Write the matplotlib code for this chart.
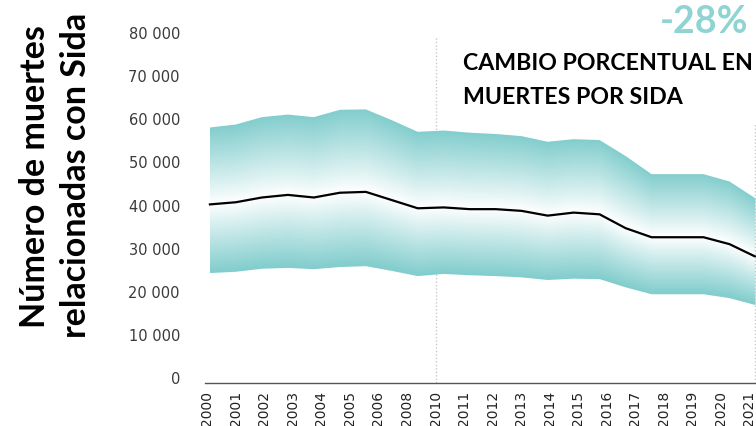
import numpy as np
import matplotlib
matplotlib.use('Agg')
import matplotlib.pyplot as plt
from matplotlib.colors import to_rgb

# AIDS-related deaths, estimate with lower / upper bounds
years = np.arange(2000, 2022)
upper = [58100, 58800, 60500, 61100, 60500, 62200, 62300, 59800, 57100, 57400, 56900,
         56600, 56100, 54800, 55400, 55200, 51500, 47300, 47300, 47300, 45600, 41700]
mid = [40300, 40800, 41900, 42500, 41900, 43000, 43200, 41300, 39400, 39600, 39200,
       39200, 38800, 37700, 38400, 38000, 34800, 32700, 32700, 32700, 31100, 28200]
lower = [24400, 24700, 25400, 25600, 25300, 25800, 26000, 24900, 23700, 24200, 23900,
         23700, 23400, 22800, 23100, 23000, 21100, 19500, 19500, 19500, 18600, 17000]

# the labels on the x axis are spread evenly (2007 and 2009 are missing)
tick_labels = ['2000', '2001', '2002', '2003', '2004', '2005', '2006', '2008', '2010',
               '2011', '2012', '2013', '2014', '2015', '2016', '2017', '2018', '2019',
               '2020', '2021']
y_ticks = [0, 10000, 20000, 30000, 40000, 50000, 60000, 70000, 80000]

teal = '#82cdcd'

fig = plt.figure(figsize=(7.56, 4.26), dpi=100)
ax = fig.add_axes([205 / 756, 0.1014, 1 - 205 / 756, 0.8315])

# gradient band: white at the central line, teal at the bounds
xs = np.linspace(years[0], years[-1], 700)
ys = np.linspace(0, 70000, 600)
X, Y = np.meshgrid(xs, ys)
up = np.interp(X, years, upper)
md = np.interp(X, years, mid)
lo = np.interp(X, years, lower)
t = np.where(Y >= md, (Y - md) / (up - md), (md - Y) / (md - lo))
t = np.clip(t, 0, 1) ** 0.95
img = 1 - t[..., None] * (1 - np.array(to_rgb(teal)))
im = ax.imshow(img, extent=(xs[0], xs[-1], ys[0], ys[-1]), origin='lower',
               aspect='auto', interpolation='bilinear', zorder=1)
band = ax.fill_between(years, lower, upper, color='none', lw=0)
im.set_clip_path(band.get_paths()[0], transform=ax.transData)

ax.plot(years, mid, color='black', lw=1.6, zorder=3)

# label positions sit a little inside the data range, as in the original
tick_pos = np.linspace(years[0] - 0.1, years[-1] - 0.24, len(tick_labels))
ax.axvline(tick_pos[tick_labels.index('2010')], ymax=0.98, color='#c8c8c8',
           lw=1, ls=(0, (1, 1.5)), zorder=0)
ax.axvline(years[-1], ymax=0.73, color='#c8c8c8', lw=1, ls=(0, (1, 1.5)), zorder=4)

ax.set_xlim(1999.81, 2021.02)
ax.set_ylim(-1000, 81000)
ax.set_xticks(tick_pos)
ax.set_xticklabels(tick_labels, rotation=90, fontsize=10,
                   family=['Liberation Sans Narrow', 'DejaVu Sans'], color='#222222')
ax.set_yticks(y_ticks)
ax.set_yticklabels([f'{v:,}'.replace(',', ' ') for v in y_ticks], fontsize=10.5,
                   color='#3a3a3a')
ax.tick_params(length=0)
ax.tick_params(axis='y', pad=18)
ax.tick_params(axis='x', pad=6)
for s in ['top', 'right', 'left']:
    ax.spines[s].set_visible(False)
ax.spines['bottom'].set_color('#555555')
ax.spines['bottom'].set_linewidth(1)

fig.text(35 / 756, 1 - 177 / 426, 'Número de muertes', rotation=90, ha='center',
         va='center', fontsize=24.5, fontweight='bold', family='Lato')
fig.text(76 / 756, 1 - 175 / 426, 'relacionadas con Sida', rotation=90, ha='center',
         va='center', fontsize=24.5, fontweight='bold', family='Lato')

fig.text(748 / 756, 1 - 22 / 426, '-28%', ha='right', va='center', fontsize=27,
         fontweight='bold', family='Lato', color='#8fd3d3')
fig.text(463 / 756, 1 - 64 / 426, 'CAMBIO PORCENTUAL EN', ha='left', va='center',
         fontsize=16.7, fontweight='bold', family='Lato')
fig.text(463 / 756, 1 - 97 / 426, 'MUERTES POR SIDA', ha='left', va='center',
         fontsize=16.7, fontweight='bold', family='Lato')

fig.savefig('out.png', dpi=100)
